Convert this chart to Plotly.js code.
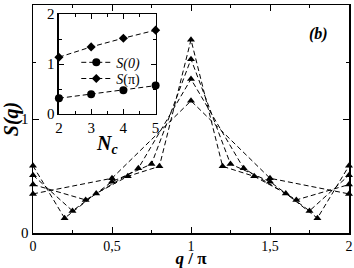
<!DOCTYPE html>
<html><head><meta charset="utf-8">
<script src="https://cdn.plot.ly/plotly-3.0.1.min.js"></script>
<style>html,body{margin:0;padding:0;background:#fff}#c{width:354px;height:268px}</style>
</head><body><div id="c"></div>
<script>
// main panel: S(q) for four cluster sizes
const q4 = [0, 0.5, 1, 1.5, 2];
const s4 = [0.343, 0.48, 1.159, 0.48, 0.343];
const q6 = [0, 1/3, 2/3, 1, 4/3, 5/3, 2];
const s6 = [0.425, 0.29, 0.567, 1.35, 0.567, 0.29, 0.425];
const q8 = [0, 0.25, 0.5, 0.75, 1, 1.25, 1.5, 1.75, 2];
const s8 = [0.507, 0.194, 0.45, 0.605, 1.525, 0.605, 0.45, 0.194, 0.507];
const q10 = [0, 0.2, 0.4, 0.6, 0.8, 1, 1.2, 1.4, 1.6, 1.8, 2];
const s10 = [0.589, 0.13, 0.347, 0.497, 0.585, 1.695, 0.585, 0.497, 0.347, 0.13, 0.589];
// inset
const Nc = [2, 3, 4, 5];
const S0 = [0.315, 0.395, 0.475, 0.568];
const Spi = [1.137, 1.344, 1.518, 1.679];

const F = 'Liberation Serif';
const dash = '5px,3px';
const tri = {symbol: 'triangle-up', size: 7, color: '#000'};
function mainTrace(x, y) {
  return {x: x, y: y, mode: 'lines+markers', line: {color: '#000', width: 1, dash: dash},
    marker: tri, showlegend: false, cliponaxis: false, xaxis: 'x', yaxis: 'y'};
}
const traces = [mainTrace(q4, s4), mainTrace(q6, s6), mainTrace(q8, s8), mainTrace(q10, s10),
  {x: Nc, y: S0, name: '<i>S(0)</i>', mode: 'lines+markers', line: {color: '#000', width: 1, dash: dash},
   marker: {symbol: 'circle', size: 8, color: '#000'}, xaxis: 'x2', yaxis: 'y2', cliponaxis: false,
   legend: 'legend'},
  {x: Nc, y: Spi, name: '<i>S</i>(π)', mode: 'lines+markers', line: {color: '#000', width: 1, dash: dash},
   marker: {symbol: 'diamond', size: 7, color: '#000'}, xaxis: 'x2', yaxis: 'y2', cliponaxis: false,
   legend: 'legend2'}
];
const ax = {showline: true, linecolor: '#000', linewidth: 1.5, mirror: 'allticks', ticks: 'inside',
  ticklen: 6, tickwidth: 1, tickcolor: '#000', showgrid: false, zeroline: false,
  tickfont: {family: F, size: 15, color: '#000'}};
const leg = {xanchor: 'left', yanchor: 'top', bgcolor: 'rgba(0,0,0,0)', borderwidth: 0,
  font: {family: F, size: 14, color: '#000'}, itemwidth: 30};
const layout = {
  width: 354, height: 268, margin: {l: 33, r: 5, t: 5, b: 35},
  separators: ',.', paper_bgcolor: '#fff', plot_bgcolor: '#fff',
  font: {family: F, color: '#000'},
  xaxis: Object.assign({}, ax, {range: [0, 2], dtick: 0.5, tick0: 0, domain: [0, 1],
    tickfont: {family: F, size: 14, color: '#000'},
    minor: {dtick: 0.25, ticks: 'inside', ticklen: 3, tickcolor: '#000'},
    title: {text: '<b><i>q</i> / π</b>', font: {family: F, size: 17, color: '#000'}, standoff: 7}}),
  yaxis: Object.assign({}, ax, {range: [0, 2], dtick: 1, tick0: 0, domain: [0, 1],
    minor: {dtick: 0.5, ticks: 'inside', ticklen: 3, tickcolor: '#000'},
    title: {text: '<b><i>S(q)</i></b>', font: {family: F, size: 20, color: '#000'}, standoff: 0}}),
  xaxis2: Object.assign({}, ax, {range: [2, 5], dtick: 1, domain: [0.082, 0.388], anchor: 'y2',
    ticklen: 5, minor: {dtick: 0.5, ticks: 'inside', ticklen: 3, tickcolor: '#000'},
    title: {text: '<b><i>N<sub>c</sub></i></b>', font: {family: F, size: 20, color: '#000'}, standoff: 0}}),
  yaxis2: Object.assign({}, ax, {range: [0, 2], dtick: 1, domain: [0.522, 0.96], anchor: 'x2',
    ticklen: 5, minor: {dtick: 0.5, ticks: 'inside', ticklen: 3, tickcolor: '#000'}}),
  showlegend: true,
  legend: Object.assign({}, leg, {x: 0.137, y: 0.817}),
  legend2: Object.assign({}, leg, {x: 0.137, y: 0.746}),
  annotations: [{xref: 'paper', yref: 'paper', x: 0.904, y: 0.874, xanchor: 'center', yanchor: 'middle',
    text: '<b><i>(b)</i></b>', showarrow: false, font: {family: F, size: 16, color: '#000'}}]
};
Plotly.newPlot('c', traces, layout, {staticPlot: true, displayModeBar: false});
</script></body></html>
